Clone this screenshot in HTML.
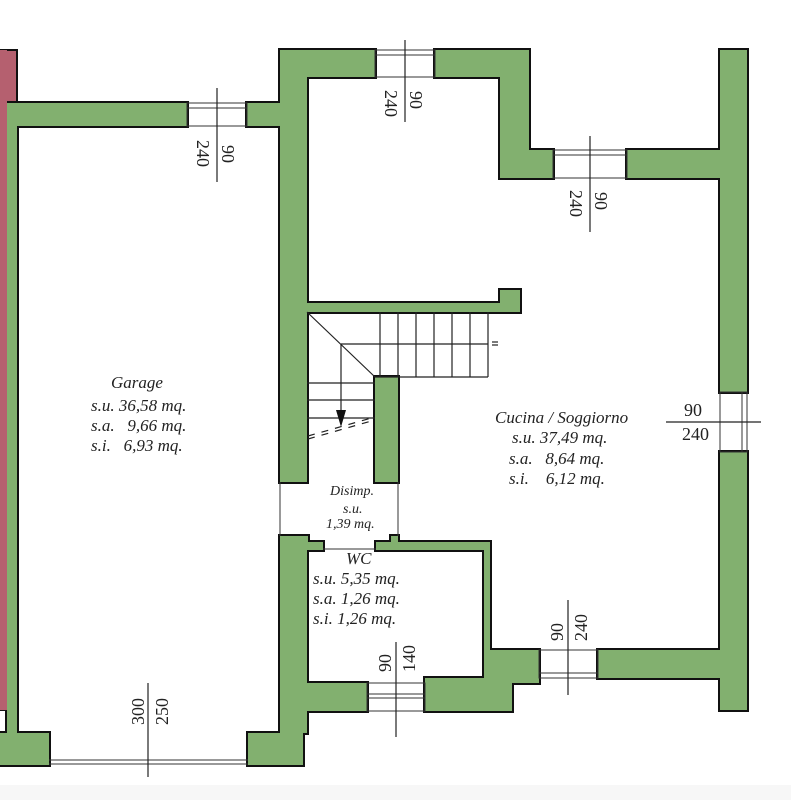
<!DOCTYPE html>
<html><head><meta charset="utf-8"><style>
html,body{margin:0;padding:0;background:#fff;}
svg{display:block;}
text{font-family:"Liberation Serif",serif;fill:#222;}
.it{font-style:italic;font-size:17px;}
.d{font-size:18px;}
</style></head><body>
<svg width="791" height="800" viewBox="0 0 791 800" xmlns="http://www.w3.org/2000/svg">
<rect width="791" height="800" fill="#fff"/>
<rect x="0" y="785" width="791" height="15" fill="#f7f7f7"/>
<rect x="0" y="50" width="17" height="660" fill="#b5606f" stroke="#111" stroke-width="2"/>
<g stroke="#111" stroke-width="4" fill="#111">
<rect x="7" y="103" width="180" height="23"/>
<rect x="7" y="103" width="10" height="662"/>
<rect x="0" y="733" width="49" height="32"/>
<rect x="247" y="103" width="60" height="23"/>
<rect x="280" y="50" width="27" height="432"/>
<rect x="280" y="50" width="95" height="27"/>
<rect x="435" y="50" width="94" height="27"/>
<rect x="500" y="50" width="29" height="128"/>
<rect x="500" y="150" width="53" height="28"/>
<rect x="627" y="150" width="120" height="28"/>
<rect x="720" y="50" width="27" height="342"/>
<rect x="720" y="452" width="27" height="258"/>
<rect x="307" y="303" width="213" height="9"/>
<rect x="500" y="290" width="20" height="22"/>
<rect x="375" y="377" width="17" height="96"/>
<rect x="375" y="377" width="23" height="105"/>
<rect x="280" y="536" width="27" height="197"/>
<rect x="280" y="536" width="28" height="12"/>
<rect x="280" y="542" width="43" height="8"/>
<rect x="391" y="536" width="7" height="8"/>
<rect x="376" y="542" width="114" height="8"/>
<rect x="484" y="542" width="6" height="140"/>
<rect x="280" y="683" width="87" height="28"/>
<rect x="425" y="678" width="87" height="33"/>
<rect x="484" y="650" width="55" height="33"/>
<rect x="598" y="650" width="149" height="28"/>
<rect x="720" y="650" width="27" height="60"/>
<rect x="248" y="733" width="55" height="32"/>
<rect x="280" y="705" width="23" height="40"/>
</g>
<g fill="#82b06f">
<rect x="7" y="103" width="180" height="23"/>
<rect x="7" y="103" width="10" height="662"/>
<rect x="0" y="733" width="49" height="32"/>
<rect x="247" y="103" width="60" height="23"/>
<rect x="280" y="50" width="27" height="432"/>
<rect x="280" y="50" width="95" height="27"/>
<rect x="435" y="50" width="94" height="27"/>
<rect x="500" y="50" width="29" height="128"/>
<rect x="500" y="150" width="53" height="28"/>
<rect x="627" y="150" width="120" height="28"/>
<rect x="720" y="50" width="27" height="342"/>
<rect x="720" y="452" width="27" height="258"/>
<rect x="307" y="303" width="213" height="9"/>
<rect x="500" y="290" width="20" height="22"/>
<rect x="375" y="377" width="17" height="96"/>
<rect x="375" y="377" width="23" height="105"/>
<rect x="280" y="536" width="27" height="197"/>
<rect x="280" y="536" width="28" height="12"/>
<rect x="280" y="542" width="43" height="8"/>
<rect x="391" y="536" width="7" height="8"/>
<rect x="376" y="542" width="114" height="8"/>
<rect x="484" y="542" width="6" height="140"/>
<rect x="280" y="683" width="87" height="28"/>
<rect x="425" y="678" width="87" height="33"/>
<rect x="484" y="650" width="55" height="33"/>
<rect x="598" y="650" width="149" height="28"/>
<rect x="720" y="650" width="27" height="60"/>
<rect x="248" y="733" width="55" height="32"/>
<rect x="280" y="705" width="23" height="40"/>
</g>
<rect x="0" y="50" width="7" height="660" fill="#b5606f"/>
<g fill="none" stroke="#333" stroke-width="1">
<rect x="187" y="103" width="60" height="23"/><line x1="187" y1="108" x2="247" y2="108"/>
<rect x="375" y="50" width="60" height="27"/><line x1="375" y1="55" x2="435" y2="55"/>
<rect x="553" y="150" width="74" height="28"/><line x1="553" y1="155" x2="627" y2="155"/>
<rect x="720" y="392" width="27" height="60"/><line x1="742" y1="392" x2="742" y2="452"/>
<rect x="539" y="650" width="59" height="28"/><line x1="539" y1="673" x2="598" y2="673"/>
<rect x="367" y="683" width="58" height="28"/><line x1="367" y1="694" x2="425" y2="694"/><line x1="367" y1="698" x2="425" y2="698"/>
<line x1="49" y1="760" x2="248" y2="760"/><line x1="49" y1="764" x2="248" y2="764"/>
<line x1="280" y1="482" x2="280" y2="536"/><line x1="398" y1="482" x2="398" y2="536"/>
<line x1="323" y1="549" x2="376" y2="549"/>
</g>
<g stroke="#222" stroke-width="1.2" fill="none">
<line x1="307" y1="312" x2="375" y2="377"/>
<line x1="341" y1="344" x2="488" y2="344"/>
<line x1="375" y1="377" x2="488" y2="377"/>
<line x1="380" y1="312" x2="380" y2="377"/><line x1="398" y1="312" x2="398" y2="377"/>
<line x1="416" y1="312" x2="416" y2="377"/><line x1="434" y1="312" x2="434" y2="377"/>
<line x1="452" y1="312" x2="452" y2="377"/><line x1="470" y1="312" x2="470" y2="377"/>
<line x1="488" y1="312" x2="488" y2="377"/>
<line x1="307" y1="383" x2="375" y2="383"/><line x1="307" y1="400" x2="375" y2="400"/><line x1="307" y1="418" x2="375" y2="418"/>
<line x1="341" y1="344" x2="341" y2="420"/>
<line x1="492" y1="342" x2="498" y2="342"/><line x1="492" y1="345" x2="498" y2="345"/>
<g stroke-dasharray="7,7"><line x1="308" y1="439" x2="375" y2="420"/><line x1="308" y1="436" x2="375" y2="417"/></g>
</g>
<polygon points="336,410 346,410 341,427" fill="#111"/>
<g stroke="#222" stroke-width="1.2">
<line x1="217" y1="88" x2="217" y2="182"/>
<line x1="405" y1="40" x2="405" y2="122"/>
<line x1="590" y1="136" x2="590" y2="232"/>
<line x1="666" y1="422" x2="761" y2="422"/>
<line x1="568" y1="600" x2="568" y2="695"/>
<line x1="396" y1="642" x2="396" y2="737"/>
<line x1="148" y1="683" x2="148" y2="777"/>
</g>
<text class="d" transform="translate(222,145) rotate(90)">90</text>
<text class="d" transform="translate(197,140) rotate(90)">240</text>
<text class="d" transform="translate(410,91) rotate(90)">90</text>
<text class="d" transform="translate(385,90) rotate(90)">240</text>
<text class="d" transform="translate(595,192) rotate(90)">90</text>
<text class="d" transform="translate(570,190) rotate(90)">240</text>
<text class="d" x="684" y="416">90</text>
<text class="d" x="682" y="440">240</text>
<text class="d" transform="translate(563,641) rotate(-90)">90</text>
<text class="d" transform="translate(587,641) rotate(-90)">240</text>
<text class="d" transform="translate(391,672) rotate(-90)">90</text>
<text class="d" transform="translate(415,672) rotate(-90)">140</text>
<text class="d" transform="translate(144,725) rotate(-90)">300</text>
<text class="d" transform="translate(168,725) rotate(-90)">250</text>
<text class="it" x="111" y="388">Garage</text>
<text class="it" x="91" y="411" xml:space="preserve">s.u. 36,58 mq.</text>
<text class="it" x="91" y="431" xml:space="preserve">s.a.   9,66 mq.</text>
<text class="it" x="91" y="451" xml:space="preserve">s.i.   6,93 mq.</text>
<text class="it" x="495" y="423">Cucina / Soggiorno</text>
<text class="it" x="512" y="443">s.u. 37,49 mq.</text>
<text class="it" x="509" y="464" xml:space="preserve">s.a.   8,64 mq.</text>
<text class="it" x="509" y="484" xml:space="preserve">s.i.    6,12 mq.</text>
<text class="it" x="330" y="495" style="font-size:14px">Disimp.</text>
<text class="it" x="343" y="513" style="font-size:14px">s.u.</text>
<text class="it" x="326" y="528" style="font-size:14px">1,39 mq.</text>
<text class="it" x="346" y="564">WC</text>
<text class="it" x="313" y="584">s.u. 5,35 mq.</text>
<text class="it" x="313" y="604">s.a. 1,26 mq.</text>
<text class="it" x="313" y="624">s.i. 1,26 mq.</text>
</svg>
</body></html>
